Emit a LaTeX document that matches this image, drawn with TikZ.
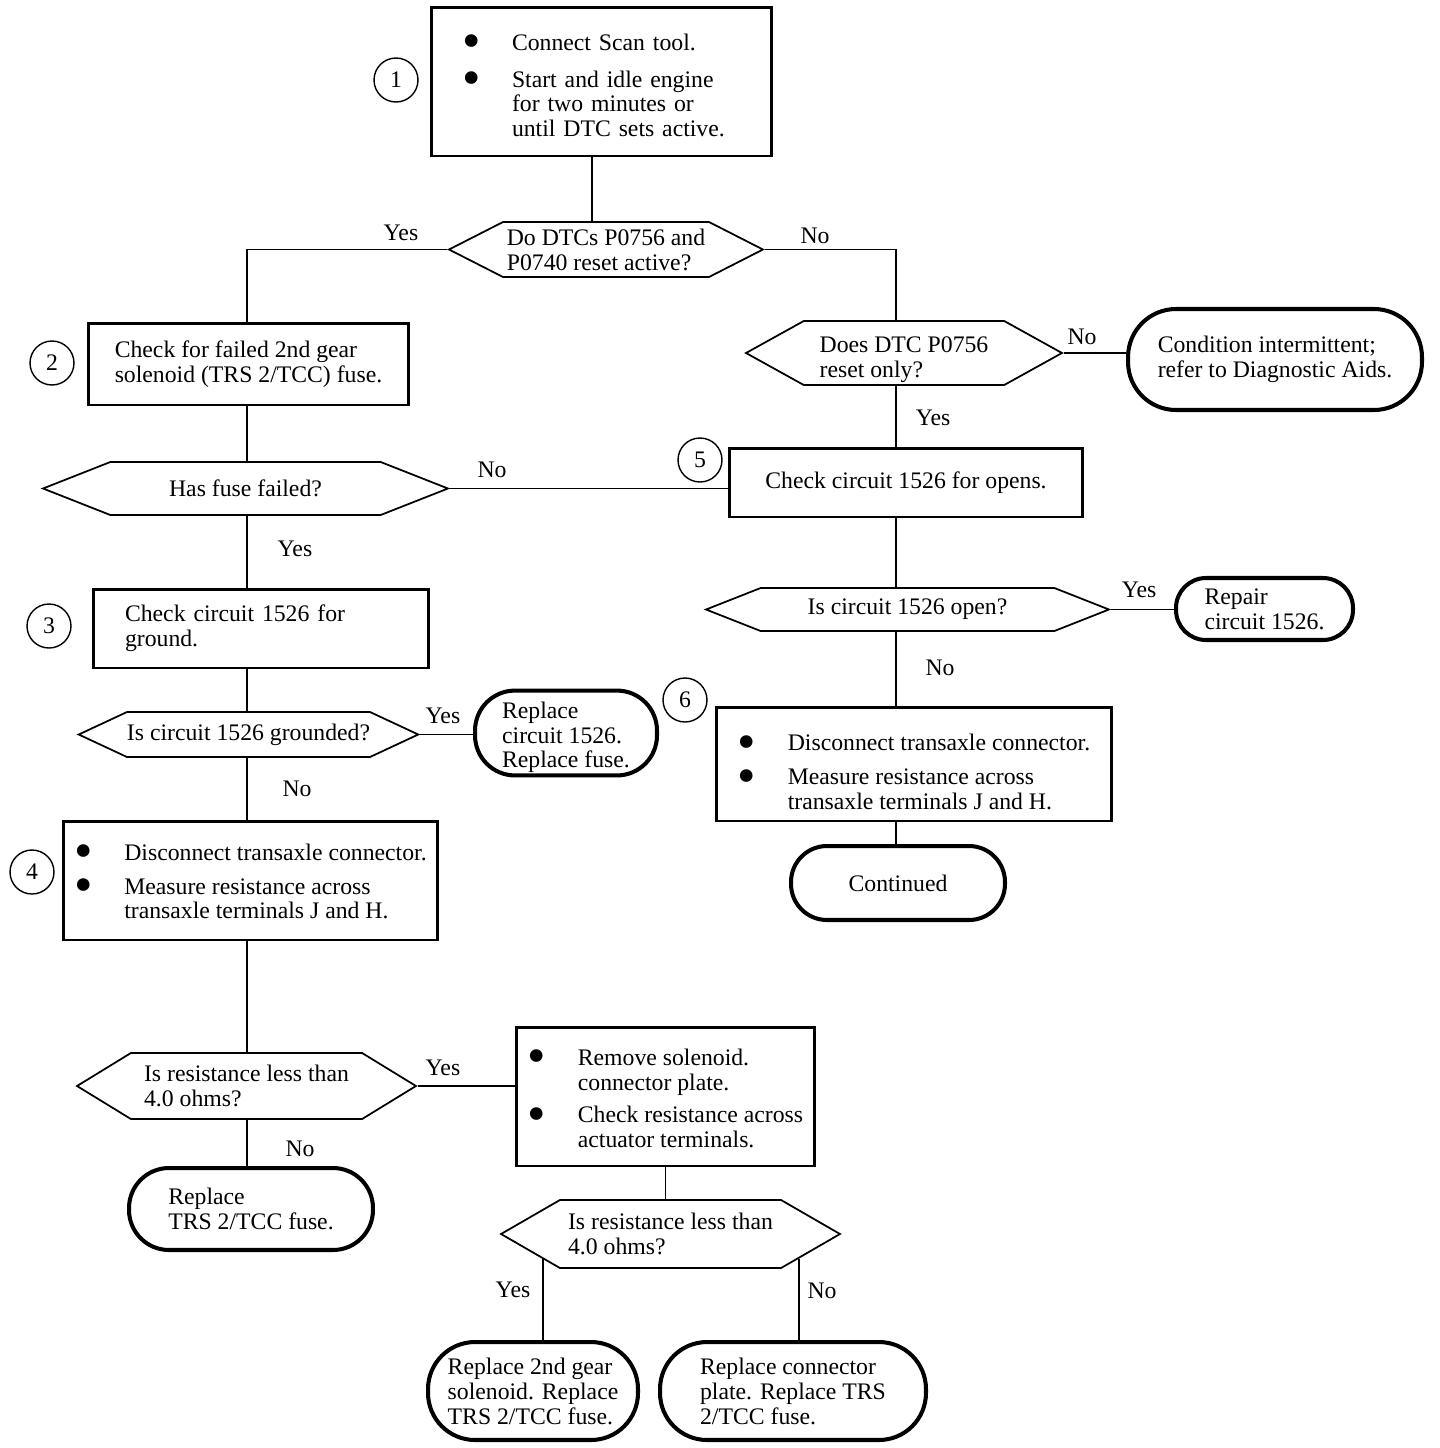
\documentclass[tikz,border=0pt]{standalone}
\usepackage{fontspec}
\setmainfont{Liberation Serif}
\usepackage{tikz}
\usetikzlibrary{shapes.symbols,calc}
\newcommand{\dotit}{\raisebox{-5pt}[0pt][0pt]{\fontsize{30}{30}\selectfont\textbullet}}
\newcommand{\dn}[2]{\raisebox{0pt}[\dimexpr\height+#1\relax][\depth]{#2}}

\begin{document}
\begin{tikzpicture}[x=0.02cm,y=-0.02cm,every node/.style={font=\fontsize{13.5}{14.2}\selectfont},box/.style={draw,line width=1.7pt,align=left,inner sep=0pt},dec/.style={draw,line width=1pt,signal,signal to=west and east,align=left,inner sep=0pt},term/.style={draw,line width=2.3pt,rounded corners=#1,align=left,inner sep=0pt},num/.style={draw,circle,line width=0.8pt,minimum size=0.88cm,inner sep=0pt},lnk/.style={line width=1.1pt}]
\useasboundingbox (0,0) rectangle (1440,1448);
\coordinate (tc) at (592,0);\coordinate (lc) at (247,0);\coordinate (rc) at (896,0);
\node[box,minimum width=6.82cm,minimum height=2.98cm,text width=5.58cm,inner xsep=0.62cm] (s1) at (601.5,81.5) {\dn{0.28cm}{\begin{tabular}{@{}p{1cm}@{}l@{}}\dotit&Connect Scan tool.\\[0.24cm]\dotit&Start and idle engine\\&for two minutes or\\&until DTC sets active.\end{tabular}}};
\node[box,minimum width=6.42cm,minimum height=1.64cm] (s2) at (248.5,364) {Check for failed 2nd gear\\solenoid (TRS 2/TCC) fuse.};
\node[box,minimum width=6.72cm,minimum height=1.58cm,text width=5.44cm,inner xsep=0.64cm] (s3) at (261,628.5) {Check circuit 1526 for\\ground.};
\node[box,minimum width=7.5cm,minimum height=2.38cm] (s4) at (250.5,880.5) {\dn{0.16cm}{\begin{tabular}{@{}p{1cm}@{}l@{}}\dotit&Disconnect transaxle connector.\\[0.18cm]\dotit&Measure resistance across\\&transaxle terminals J and H.\end{tabular}}};
\node[box,minimum width=7.08cm,minimum height=1.38cm] (s5) at (906,482.5) {Check circuit 1526 for opens.};
\node[box,minimum width=7.92cm,minimum height=2.28cm] (s6) at (914,764) {\dn{0.44cm}{\begin{tabular}{@{}p{1cm}@{}l@{}}\dotit&Disconnect transaxle connector.\\[0.18cm]\dotit&Measure resistance across\\&transaxle terminals J and H.\end{tabular}}};
\node[box,minimum width=5.98cm,minimum height=2.78cm] (s7) at (665.5,1096.5) {\dn{0.2cm}{\begin{tabular}{@{}p{1cm}@{}l@{}}\dotit&Remove solenoid.\\&connector plate.\\[0.16cm]\dotit&Check resistance across\\&actuator terminals.\end{tabular}}};
\node[dec,minimum width=6.28cm,minimum height=1.1cm,signal pointer angle=54] (q1) at (606,249.5) {Do DTCs P0756 and\\P0740 reset active?};
\node[dec,minimum width=6.32cm,minimum height=1.2cm,signal pointer angle=58] (q2) at (904,353) {\dn{0.28cm}{\begin{tabular}{@{}l@{}}Does DTC P0756\\reset only?\end{tabular}}};
\node[dec,minimum width=8.1cm,minimum height=1.06cm,signal pointer angle=43] (q3) at (245.5,488.5) {Has fuse failed?};
\node[dec,minimum width=6.78cm,minimum height=0.9cm,signal pointer angle=50] (q4) at (248.5,734.5) {Is circuit 1526 grounded?};
\node[dec,minimum width=6.78cm,minimum height=1.32cm,signal pointer angle=63] (q5) at (246.5,1086) {Is resistance less than\\4.0 ohms?};
\node[dec,minimum width=6.78cm,minimum height=1.36cm,signal pointer angle=60] (q6) at (670.5,1234) {Is resistance less than\\4.0 ohms?};
\node[dec,minimum width=8.06cm,minimum height=0.86cm,signal pointer angle=43] (q7) at (907.5,609.5) {Is circuit 1526 open?};
\node[term=0.96cm,minimum width=5.88cm,minimum height=2.02cm] (e1) at (1275,359.5) {Condition intermittent;\\refer to Diagnostic Aids.};
\node[term=0.8cm,minimum width=3.64cm,minimum height=1.68cm] (e2) at (566,733) {\dn{0.2cm}{\begin{tabular}{@{}l@{}}Replace\\circuit 1526.\\Replace fuse.\end{tabular}}};
\node[term=0.6cm,minimum width=3.54cm,minimum height=1.24cm] (e3) at (1264.5,609) {Repair\\circuit 1526.};
\node[term=0.8cm,minimum width=4.88cm,minimum height=1.64cm] (e4) at (251,1209) {Replace\\TRS 2/TCC fuse.};
\node[term=0.94cm,minimum width=4.2cm,minimum height=1.96cm] (e5) at (533,1391) {Replace 2nd gear\\solenoid. Replace\\TRS 2/TCC fuse.};
\node[term=0.94cm,minimum width=5.32cm,minimum height=1.96cm] (e6) at (793,1391) {Replace connector\\plate. Replace TRS\\2/TCC fuse.};
\node[term=0.72cm,minimum width=4.28cm,minimum height=1.48cm] (e7) at (898,883) {Continued};
\node[num] (c1) at (396,80) {1};
\node[num] (c2) at (52,363) {2};
\node[num] (c3) at (49,626) {3};
\node[num] (c4) at (32,872) {4};
\node[num] (c5) at (700,460) {5};
\node[num] (c6) at (685,700) {6};
\node (y1) at (401,233) {Yes};\node (n1) at (815,236) {No};
\node (n2) at (1082,337) {No};\node (y2) at (933,418) {Yes};
\node (n3) at (492,470) {No};\node (y3) at (295,549) {Yes};
\node (y4) at (1139,590) {Yes};\node (n4) at (940,668) {No};
\node (y5) at (443,716) {Yes};\node (n5) at (297,789) {No};
\node (y6) at (443,1068) {Yes};\node (n6) at (300,1149) {No};
\node (y7) at (513,1290) {Yes};\node (n7) at (822,1291) {No};
\coordinate (q6l) at ($(q6.west)+(44,25)$);\coordinate (q6r) at ($(q6.east)+(-43,25)$);
\draw[lnk] (s1.south -| tc) -- (q1.north -| tc);\draw[lnk] (q1.west) -| (s2.north -| lc);\draw[lnk] (q1.east) -| (q2.north -| rc);
\draw[lnk] (s2.south -| lc) -- (q3.north -| lc);\draw[lnk] (q3.south -| lc) -- (s3.north -| lc);\draw[lnk] (s3.south -| lc) -- (q4.north -| lc);
\draw[lnk] (q4.south -| lc) -- (s4.north -| lc);\draw[lnk] (s4.south -| lc) -- (q5.north -| lc);\draw[lnk] (q5.south -| lc) -- (e4.north -| lc);
\draw[lnk] (q3.east) -- (q3.east -| s5.west);\draw[lnk] (q4.east) -- (q4.east -| e2.west);\draw[lnk] (q5.east) -- (q5.east -| s7.west);
\draw[lnk] (s7.south) -- (s7.south |- q6.north);\draw[lnk] (q6l) -- (q6l |- e5.north);\draw[lnk] (q6r) -- (q6r |- e6.north);
\draw[lnk] (q2.east) -- (q2.east -| e1.west);\draw[lnk] (q2.south -| rc) -- (s5.north -| rc);\draw[lnk] (s5.south -| rc) -- (q7.north -| rc);
\draw[lnk] (q7.east) -- (q7.east -| e3.west);\draw[lnk] (q7.south -| rc) -- (s6.north -| rc);\draw[lnk] (s6.south -| rc) -- (e7.north -| rc);
\end{tikzpicture}
\end{document}
